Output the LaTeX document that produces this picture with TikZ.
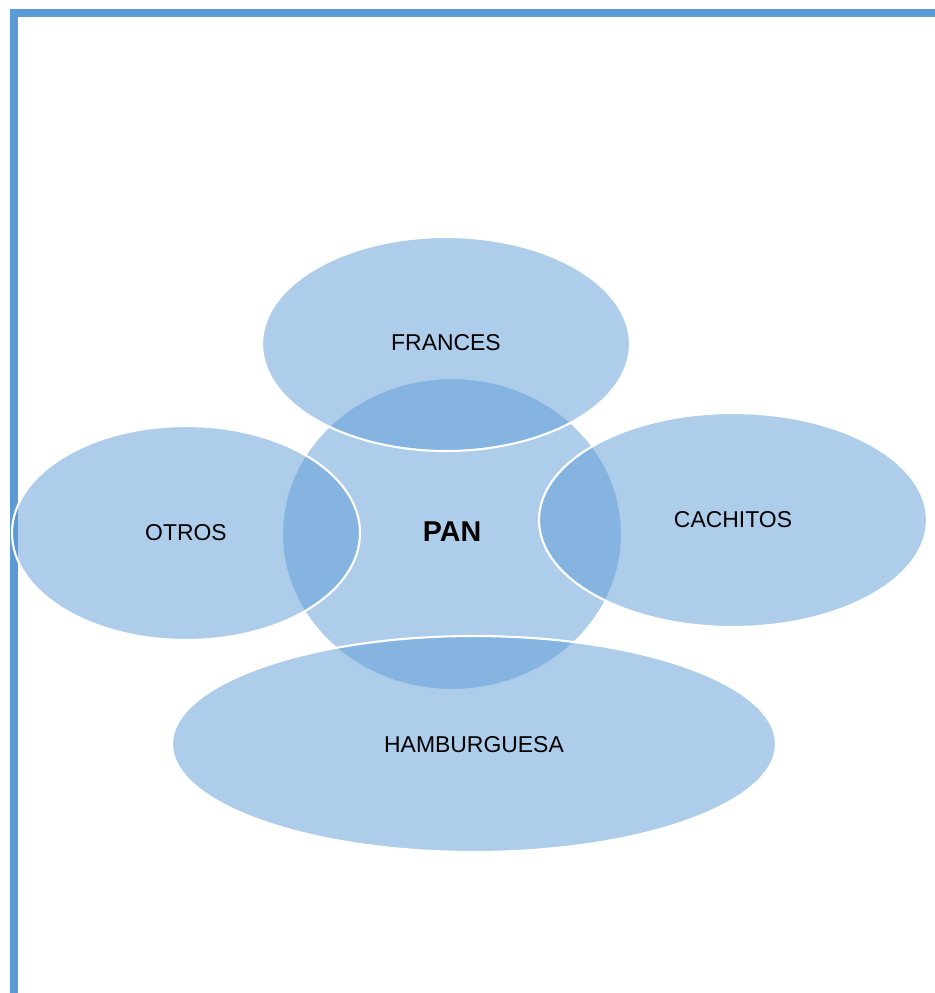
\documentclass[tikz,border=0pt]{standalone}
\usepackage{fontspec}
\setmainfont{Liberation Sans}
\definecolor{bord}{HTML}{5B9BD5}
\tikzset{
  blob/.style={fill=bord, fill opacity=0.5, draw=white, draw opacity=1, line width=1.6pt},
  lbl/.style={font=\fontsize{17.2}{20}\selectfont, text=black},
}
\begin{document}
\begin{tikzpicture}[x=0.75pt,y=-0.75pt]
\useasboundingbox (0,0) rectangle (935,993);
\draw[bord, line width=6pt] (13.5,993) -- (13.5,13) -- (935,13);
% central
\draw[blob] (452,534) ellipse [x radius=170, y radius=156];
\node[lbl, font=\fontsize{21.5}{24}\bfseries] (pan) at (452,532) {PAN};
% petals
\draw[blob] (446,344) ellipse [x radius=184, y radius=107];
\node[lbl] (frances) at (446,343) {FRANCES};
\draw[blob] (186,533) ellipse [x radius=174, y radius=107];
\node[lbl] (otros) at (186,533) {OTROS};
\draw[blob] (733,520) ellipse [x radius=194, y radius=107];
\node[lbl] (cachitos) at (733,520) {CACHITOS};
\draw[blob] (474,744) ellipse [x radius=302, y radius=108];
\node[lbl] (hamb) at (474,745) {HAMBURGUESA};
\end{tikzpicture}
\end{document}
